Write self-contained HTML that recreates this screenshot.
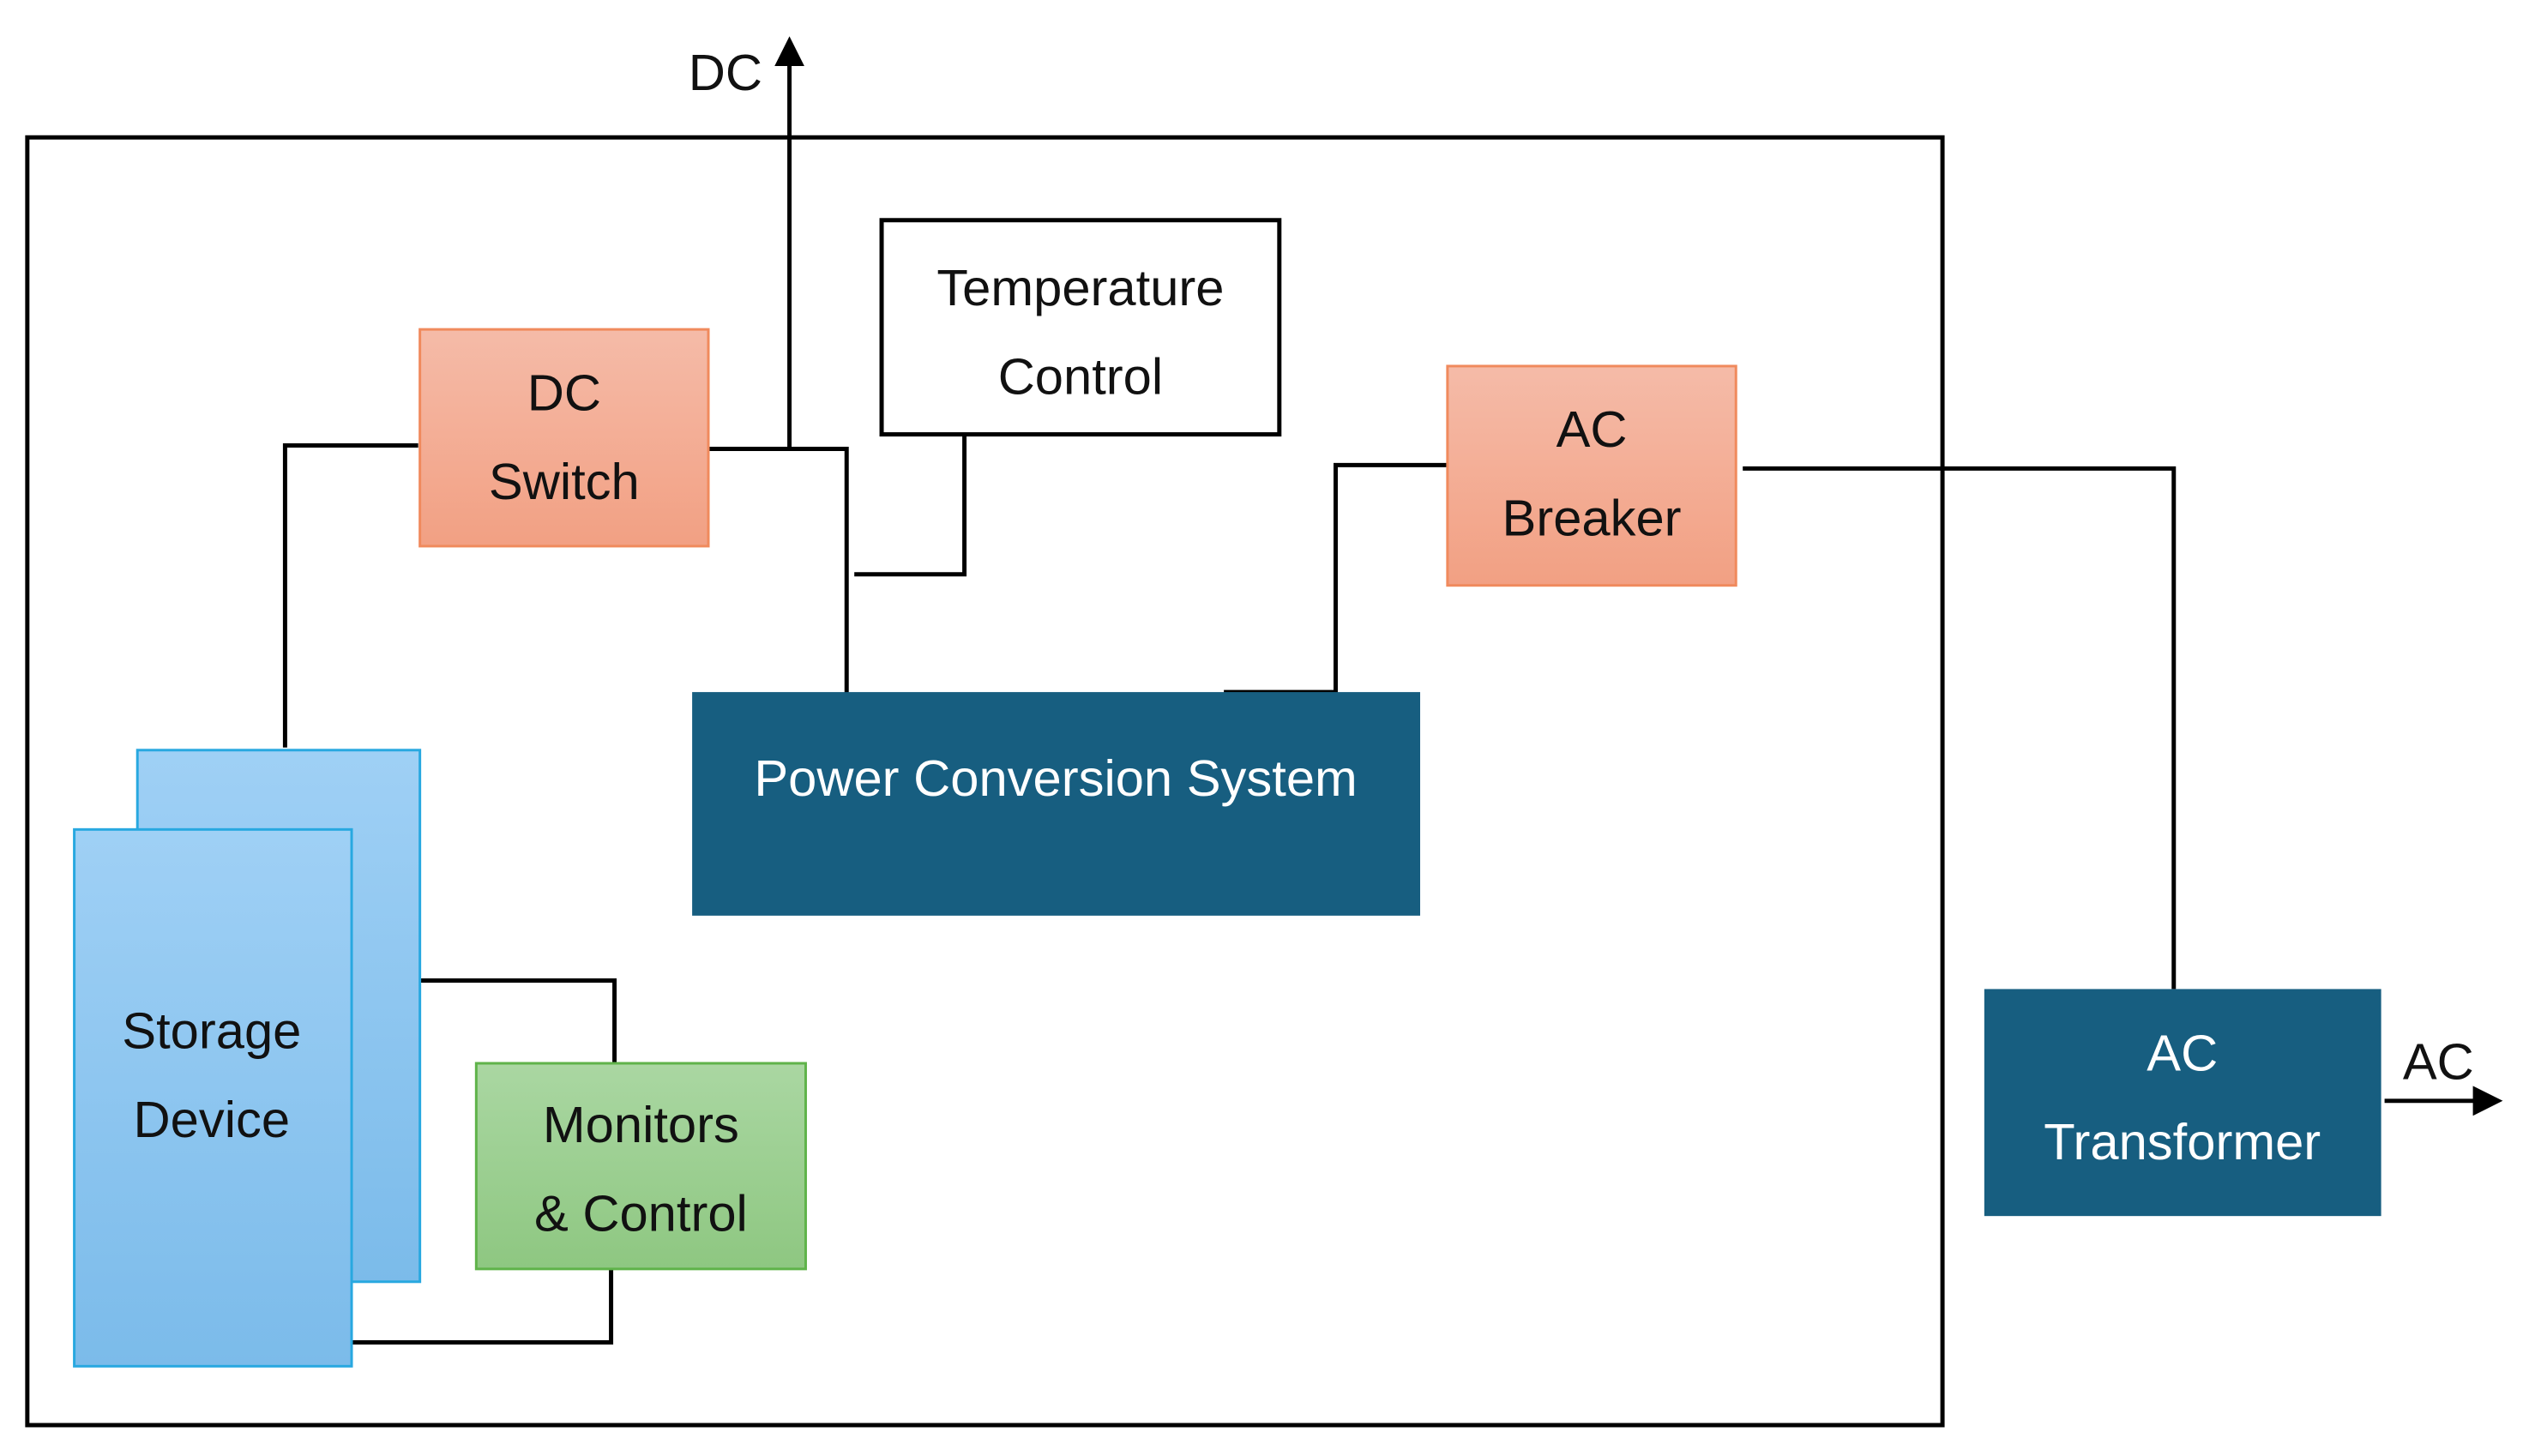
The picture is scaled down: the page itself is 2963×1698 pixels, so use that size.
<!DOCTYPE html>
<html><head><meta charset="utf-8"><style>
html,body{margin:0;padding:0;background:#fff;}
svg{display:block;}
text{font-family:"Liberation Sans",sans-serif;font-size:60px;text-anchor:middle;dominant-baseline:central;fill:#111;}
</style></head><body>
<svg width="2963" height="1698" viewBox="0 0 2963 1698" xmlns="http://www.w3.org/2000/svg">
<defs>
<linearGradient id="og" x1="0" y1="0" x2="0" y2="1"><stop offset="0" stop-color="#f5bba8"/><stop offset="1" stop-color="#f2a083"/></linearGradient>
<linearGradient id="bg" x1="0" y1="0" x2="0" y2="1"><stop offset="0" stop-color="#9fd0f5"/><stop offset="1" stop-color="#7bbbea"/></linearGradient>
<linearGradient id="gg" x1="0" y1="0" x2="0" y2="1"><stop offset="0" stop-color="#aad7a2"/><stop offset="1" stop-color="#8ec781"/></linearGradient>
<marker id="ah" viewBox="0 0 10 10" refX="5" refY="5" markerWidth="7" markerHeight="7" orient="auto-start-reverse"><path d="M0,0L10,5L0,10z" fill="#000"/></marker>
</defs>
<g transform="scale(0.9952)">
<rect x="32" y="161" width="2244" height="1509" fill="none" stroke="#000" stroke-width="5"/>
<g fill="none" stroke="#000" stroke-width="5">
<polyline points="334,876 334,522 490,522"/>
<polyline points="830,526 992,526 992,815"/>
<line x1="925" y1="526" x2="925" y2="60" marker-end="url(#ah)"/>
<polyline points="1001,673 1130,673 1130,505 1262,505"/>
<polyline points="1434,811 1565,811 1565,545 1696,545"/>
<polyline points="2042,549 2547,549 2547,1159"/>
<line x1="2794" y1="1290" x2="2915" y2="1290" marker-end="url(#ah)"/>
<polyline points="492,1149 720,1149 720,1246"/>
<polyline points="716,1487 716,1573 405,1573"/>
</g>
<text x="850" y="85">DC</text>
<text x="2857" y="1244">AC</text>
<rect x="492" y="386" width="338" height="254" fill="url(#og)" stroke="#f08a5d" stroke-width="3"/>
<text x="661" y="460">DC</text><text x="661" y="564">Switch</text>
<rect x="1033" y="258" width="466" height="251" fill="#fff" stroke="#000" stroke-width="5"/>
<text x="1266" y="337">Temperature</text><text x="1266" y="441">Control</text>
<rect x="1696" y="429" width="338" height="257" fill="url(#og)" stroke="#f08a5d" stroke-width="3"/>
<text x="1865" y="503">AC</text><text x="1865" y="607">Breaker</text>
<rect x="811" y="811" width="853" height="262" fill="#175e80"/>
<text x="1237" y="912" style="fill:#fff">Power Conversion System</text>
<rect x="161" y="879" width="331" height="623" fill="url(#bg)" stroke="#28a8e0" stroke-width="3"/>
<rect x="87" y="972" width="325" height="629" fill="url(#bg)" stroke="#28a8e0" stroke-width="3"/>
<text x="248" y="1208">Storage</text><text x="248" y="1312">Device</text>
<rect x="558" y="1246" width="386" height="241" fill="url(#gg)" stroke="#5fb34a" stroke-width="3"/>
<text x="751" y="1318">Monitors</text><text x="751" y="1422">&amp; Control</text>
<rect x="2325" y="1159" width="465" height="266" fill="#175e80"/>
<text x="2557" y="1234" style="fill:#fff">AC</text><text x="2557" y="1338" style="fill:#fff">Transformer</text>
</g>
</svg>
</body></html>
